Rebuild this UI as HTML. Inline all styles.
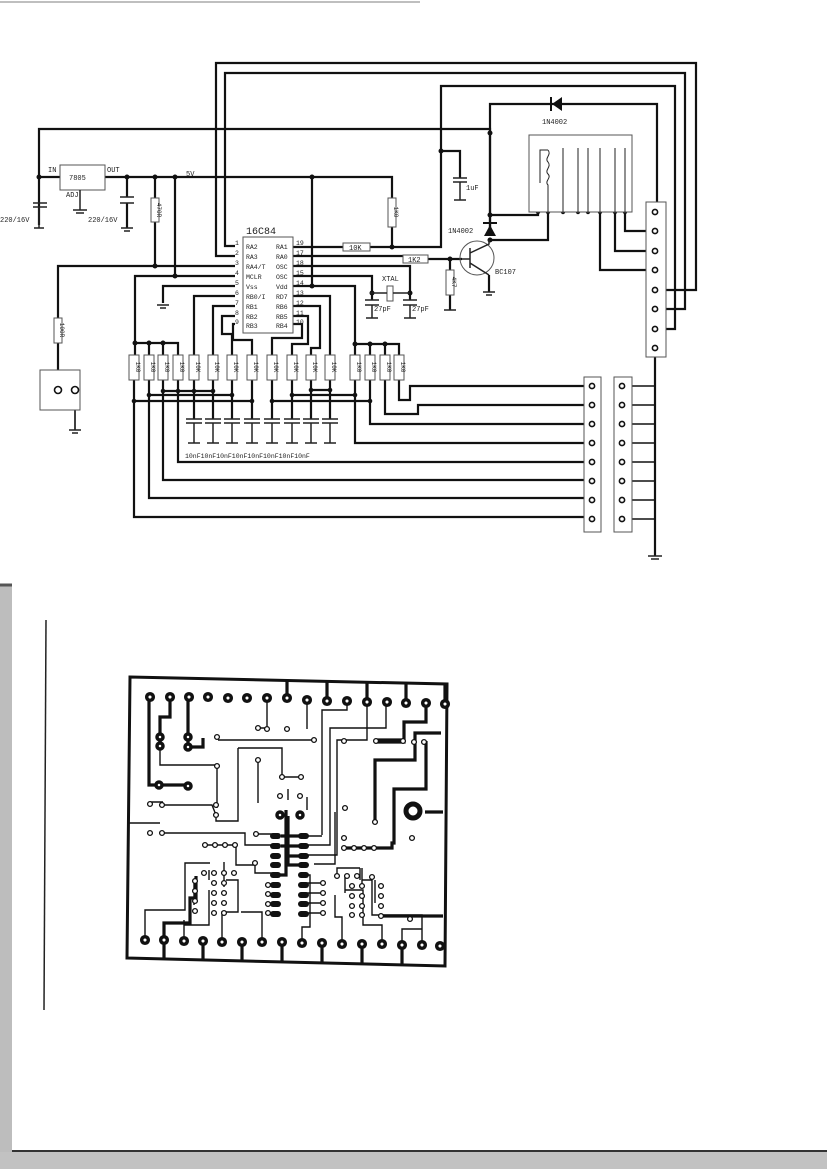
<!DOCTYPE html>
<html><head><meta charset="utf-8"><style>
html,body{margin:0;padding:0;background:#fff;}
svg{display:block;}
text{font-family:"Liberation Mono",monospace;fill:#222;}
</style></head><body>
<svg width="827" height="1169" viewBox="0 0 827 1169" xmlns="http://www.w3.org/2000/svg">
<rect width="827" height="1169" fill="#fff"/>
<line x1="0" y1="2" x2="420" y2="2" stroke="#aaa" stroke-width="1.5"/>
<rect x="0" y="585" width="12" height="584" fill="#bdbdbd"/>
<line x1="0" y1="585" x2="12" y2="585" stroke="#555" stroke-width="3"/>
<rect x="0" y="1152" width="827" height="17" fill="#c2c2c2"/>
<line x1="12" y1="1151" x2="827" y2="1151" stroke="#333" stroke-width="2"/>
<line x1="46" y1="620" x2="44" y2="1010" stroke="#222" stroke-width="1.5"/>

<g fill="none" stroke="#111" stroke-width="2.2">
<path d="M235,246 H225 V73 H685 V309 H659"/>
<path d="M235,256 H216 V63 H696 V290 H659"/>
<path d="M293,247 H441 V86 H675 V329 H659"/>
<path d="M39,225 V129 H490 V230"/>
<path d="M490,230 V104 H657 V212"/>
<path d="M441,151 H460 V178"/>
<path d="M490,215 H538 V212"/>
<path d="M490,240 H548 V212"/>
<path d="M600,212 V270 H655"/>
<path d="M615,212 V251 H655"/>
<path d="M625,212 V231 H655"/>
<path d="M655,348 V556"/>
<path d="M39,177 H60 M105,177 H392 V200 M392,227 V247"/>
<path d="M127,177 V197 M127,203 V228"/>
<path d="M155,177 V198 M155,222 V266"/>
<path d="M235,266 H58 V318 M58,343 V390"/>
<path d="M175,177 V276"/>
<path d="M235,276 H135 V355 M135,343 H178 V355 M149,343 V355 M163,343 V355"/>
<path d="M235,286 H163 V303"/>
<path d="M235,296 H194 V355"/>
<path d="M235,306 H213 V355"/>
<path d="M235,316 H222 V334 H232 V355"/>
<path d="M235,324 H233 V340 H252 V355"/>
<path d="M293,324 H302 V338 H272 V355"/>
<path d="M293,316 H308 V344 H292 V355"/>
<path d="M293,306 H320 V348 H311 V355"/>
<path d="M293,296 H330 V355"/>
<path d="M312,177 V286 M293,286 H355 V344 H399 V355 M370,344 V355 M385,344 V355 M355,344 V355"/>
<path d="M293,276 H372 V300"/>
<path d="M293,266 H410 V300"/>
<path d="M293,256 H403"/>
<path d="M428,259 H462 M450,259 V270 M450,295 V310"/>
<path d="M489,275 V292"/>
<path d="M134,380 V517 H585 M149,380 V498 H585 M163,380 V480 H585 M178,380 V462 H585"/>
<path d="M355,380 V443 H585 M370,380 V424 H585 M385,380 V414 H418 V405 H585 M399,380 V400 H410 V386 H585"/>
<path d="M194,380 V419 M213,380 V419 M232,380 V419 M252,380 V419 M272,380 V419 M292,380 V419 M311,380 V419 M330,380 V419"/>
<path d="M134,401 H252 M149,395 H232 M163,391 H213 M272,401 H370 M292,395 H355 M311,390 H330"/>
</g>
<g fill="none" stroke="#111" stroke-width="1.6">
<path d="M592,386 H582 M622,386 H654 M622,405 H654 M622,424 H654 M622,443 H654 M622,462 H654 M622,481 H654 M622,500 H654 M622,519 H654"/>
<path d="M75,390 V430"/>
</g>
<g fill="#111">
<circle cx="39" cy="177" r="2.5"/><circle cx="127" cy="177" r="2.5"/><circle cx="155" cy="177" r="2.5"/><circle cx="175" cy="177" r="2.5"/>
<circle cx="312" cy="177" r="2.5"/><circle cx="392" cy="247" r="2.5"/><circle cx="155" cy="266" r="2.5"/><circle cx="175" cy="276" r="2.5"/>
<circle cx="312" cy="286" r="2.5"/><circle cx="441" cy="151" r="2.5"/><circle cx="490" cy="133" r="2.5"/><circle cx="490" cy="215" r="2.5"/>
<circle cx="490" cy="240" r="2.5"/><circle cx="450" cy="259" r="2.5"/><circle cx="372" cy="293" r="2.5"/><circle cx="410" cy="293" r="2.5"/>
<circle cx="135" cy="343" r="2.5"/><circle cx="149" cy="343" r="2.5"/><circle cx="163" cy="343" r="2.5"/>
<circle cx="355" cy="344" r="2.5"/><circle cx="370" cy="344" r="2.5"/><circle cx="385" cy="344" r="2.5"/>
<circle cx="538" cy="212" r="2.2"/><circle cx="548" cy="212" r="2.2"/><circle cx="563" cy="212" r="2.2"/><circle cx="578" cy="212" r="2.2"/><circle cx="588" cy="212" r="2.2"/><circle cx="600" cy="212" r="2.2"/><circle cx="615" cy="212" r="2.2"/><circle cx="625" cy="212" r="2.2"/>
<circle cx="134" cy="401" r="2.3"/><circle cx="252" cy="401" r="2.3"/><circle cx="149" cy="395" r="2.3"/><circle cx="232" cy="395" r="2.3"/><circle cx="163" cy="391" r="2.3"/><circle cx="213" cy="391" r="2.3"/><circle cx="178" cy="391" r="2.3"/><circle cx="194" cy="391" r="2.3"/>
<circle cx="272" cy="401" r="2.3"/><circle cx="370" cy="401" r="2.3"/><circle cx="292" cy="395" r="2.3"/><circle cx="355" cy="395" r="2.3"/><circle cx="311" cy="390" r="2.3"/><circle cx="330" cy="390" r="2.3"/>
</g>
<g fill="#fff" stroke="#555" stroke-width="1">
<rect x="60" y="165" width="45" height="25"/>
<rect x="243" y="237" width="50" height="96"/>
<rect x="343" y="243" width="27" height="8"/>
<rect x="403" y="255" width="25" height="8"/>
<rect x="388" y="198" width="8" height="29"/>
<rect x="151" y="198" width="8" height="24"/>
<rect x="54" y="318" width="8" height="25"/>
<rect x="446" y="270" width="8" height="25"/>
<rect x="40" y="370" width="40" height="40"/>
<rect x="529" y="135" width="103" height="77"/>
<rect x="646" y="202" width="20" height="155"/>
<rect x="584" y="377" width="17" height="155"/>
<rect x="614" y="377" width="18" height="155"/>
<rect x="387" y="286" width="6" height="15"/>
</g>
<g fill="#fff" stroke="#555" stroke-width="1">
<rect x="129" y="355" width="10" height="25"/><rect x="144" y="355" width="10" height="25"/><rect x="158" y="355" width="10" height="25"/><rect x="173" y="355" width="10" height="25"/>
<rect x="189" y="355" width="10" height="25"/><rect x="208" y="355" width="10" height="25"/><rect x="227" y="355" width="10" height="25"/><rect x="247" y="355" width="10" height="25"/>
<rect x="267" y="355" width="10" height="25"/><rect x="287" y="355" width="10" height="25"/><rect x="306" y="355" width="10" height="25"/><rect x="325" y="355" width="10" height="25"/>
<rect x="350" y="355" width="10" height="25"/><rect x="365" y="355" width="10" height="25"/><rect x="380" y="355" width="10" height="25"/><rect x="394" y="355" width="10" height="25"/>
</g>
<g font-size="6" text-anchor="middle">
<text transform="translate(136,367) rotate(90)">1K0</text><text transform="translate(151,367) rotate(90)">1K0</text><text transform="translate(165,367) rotate(90)">1K0</text><text transform="translate(180,367) rotate(90)">1K0</text>
<text transform="translate(196,367) rotate(90)">10K</text><text transform="translate(215,367) rotate(90)">10K</text><text transform="translate(234,367) rotate(90)">10K</text><text transform="translate(254,367) rotate(90)">10K</text>
<text transform="translate(274,367) rotate(90)">10K</text><text transform="translate(294,367) rotate(90)">10K</text><text transform="translate(313,367) rotate(90)">10K</text><text transform="translate(332,367) rotate(90)">10K</text>
<text transform="translate(357,367) rotate(90)">1K0</text><text transform="translate(372,367) rotate(90)">1K0</text><text transform="translate(387,367) rotate(90)">1K0</text><text transform="translate(401,367) rotate(90)">1K0</text>
<text transform="translate(394,212) rotate(90)">1K0</text><text transform="translate(157,210) rotate(90)">470R</text><text transform="translate(60,330) rotate(90)">100R</text><text transform="translate(452,282) rotate(90)">4K7</text>
</g>
<g font-size="7">
<text x="69" y="180">7805</text><text x="48" y="172">IN</text><text x="107" y="172">OUT</text><text x="66" y="197">ADJ</text>
<text x="186" y="176">5V</text><text x="0" y="222">220/16V</text><text x="88" y="222">220/16V</text>
<text x="349" y="250">10K</text><text x="408" y="262">1K2</text><text x="466" y="190">1uF</text>
<text x="382" y="281">XTAL</text><text x="374" y="311">27pF</text><text x="412" y="311">27pF</text>
<text x="542" y="124">1N4002</text><text x="448" y="233">1N4002</text><text x="495" y="274">BC107</text>
<text x="185" y="458" font-size="6.5">10nF10nF10nF10nF10nF10nF10nF10nF</text>
<text x="246" y="234" font-size="10">16C84</text>
</g>
<g font-size="6.5">
<text x="246" y="249">RA2</text><text x="246" y="259">RA3</text><text x="246" y="269">RA4/T</text><text x="246" y="279">MCLR</text><text x="246" y="289">Vss</text><text x="246" y="299">RB0/I</text><text x="246" y="309">RB1</text><text x="246" y="319">RB2</text><text x="246" y="328">RB3</text>
<text x="276" y="249">RA1</text><text x="276" y="259">RA0</text><text x="276" y="269">OSC</text><text x="276" y="279">OSC</text><text x="276" y="289">Vdd</text><text x="276" y="299">RD7</text><text x="276" y="309">RB6</text><text x="276" y="319">RB5</text><text x="276" y="328">RB4</text>
<text x="235" y="245">1</text><text x="235" y="255">2</text><text x="235" y="265">3</text><text x="235" y="275">4</text><text x="235" y="285">5</text><text x="235" y="295">6</text><text x="235" y="305">7</text><text x="235" y="315">8</text><text x="235" y="324">9</text>
<text x="296" y="245">19</text><text x="296" y="255">17</text><text x="296" y="265">18</text><text x="296" y="275">15</text><text x="296" y="285">14</text><text x="296" y="295">13</text><text x="296" y="305">12</text><text x="296" y="315">11</text><text x="296" y="324">10</text>
</g>
<g stroke="#222" stroke-width="1.5" fill="none">
<path d="M33,203 H47 M33,207 H47 M39,207 V228 M120,197 H134 M120,203 H134 M453,178 H467 M453,182 H467 M460,182 V200"/>
<path d="M365,300 H379 M365,305 H379 M372,305 V318 M403,300 H417 M403,305 H417 M410,305 V318"/>
<path d="M186,419 H202 M186,423 H202 M205,419 H221 M205,423 H221 M224,419 H240 M224,423 H240 M244,419 H260 M244,423 H260 M264,419 H280 M264,423 H280 M284,419 H300 M284,423 H300 M303,419 H319 M303,423 H319 M322,419 H338 M322,423 H338"/>
<path d="M194,423 V443 M213,423 V443 M232,423 V443 M252,423 V443 M272,423 V443 M292,423 V443 M311,423 V443 M330,423 V443"/>
<path d="M80,190 V210 M73,210 H87 M76,213 H84 M34,228 H44 M121,228 H133 M124,231 H130 M157,305 H169 M160,308 H166 M454,200 H466 M366,318 H378 M404,318 H416 M444,310 H456 M483,292 H495 M486,295 H492 M648,556 H662 M651,559 H659 M69,430 H81 M72,433 H78"/>
<path d="M188,443 H200 M207,443 H219 M226,443 H238 M246,443 H258 M266,443 H278 M286,443 H298 M305,443 H317 M324,443 H336"/>
<path d="M370,293 H387 M393,293 H410"/>
<circle cx="477" cy="258" r="17" stroke="#555" stroke-width="1"/>
<path d="M470,248 V268 M462,259 H470 M470,253 L489,244 V240 M470,263 L489,275"/>
<path d="M540,183 V150 H548 M548,150 C552,155 544,158 548,162 C552,167 544,170 548,174 C552,178 544,181 548,185 V212" stroke-width="1"/>
<path d="M563,212 V148 M578,212 V148 M588,212 V148 M600,212 V148 M615,212 V148 M625,212 V148" stroke-width="1"/>
</g>
<g fill="#111">
<polygon points="484,236 496,236 490,225"/><rect x="483" y="222" width="14" height="2"/>
<polygon points="552,104 562,97 562,111"/><rect x="550" y="97" width="2" height="14"/>
</g>
<g fill="#fff" stroke="#111" stroke-width="1.6">
<circle cx="58" cy="390" r="3.5"/><circle cx="75" cy="390" r="3.5"/>
<circle cx="655" cy="212" r="2.6"/><circle cx="655" cy="231" r="2.6"/><circle cx="655" cy="251" r="2.6"/><circle cx="655" cy="270" r="2.6"/><circle cx="655" cy="290" r="2.6"/><circle cx="655" cy="309" r="2.6"/><circle cx="655" cy="329" r="2.6"/><circle cx="655" cy="348" r="2.6"/>
<circle cx="592" cy="386" r="2.6"/><circle cx="592" cy="405" r="2.6"/><circle cx="592" cy="424" r="2.6"/><circle cx="592" cy="443" r="2.6"/><circle cx="592" cy="462" r="2.6"/><circle cx="592" cy="481" r="2.6"/><circle cx="592" cy="500" r="2.6"/><circle cx="592" cy="519" r="2.6"/>
<circle cx="622" cy="386" r="2.6"/><circle cx="622" cy="405" r="2.6"/><circle cx="622" cy="424" r="2.6"/><circle cx="622" cy="443" r="2.6"/><circle cx="622" cy="462" r="2.6"/><circle cx="622" cy="481" r="2.6"/><circle cx="622" cy="500" r="2.6"/><circle cx="622" cy="519" r="2.6"/>
</g>

<g fill="none" stroke="#111" stroke-linejoin="miter">
<path d="M130,677 L447,684 L445,966 L127,958 Z" stroke-width="3"/>
<g stroke-width="3.2">
<path d="M149,697 V785 H188"/><path d="M170,697 V717 H160 V740"/><path d="M188,697 V743"/>
<path d="M287,697 V680"/><path d="M327,699 V682"/><path d="M367,700 V682"/><path d="M406,701 V683"/><path d="M445,702 V685"/>
<path d="M426,702 V722 H404 V742 H377 M377,740 H403"/>
<path d="M441,733 H415 V760 H375 V822"/><path d="M426,741 V789 H394 V843 H392 V848 H344"/>
<path d="M425,812 H443"/><path d="M381,916 H443"/>
<path d="M164,942 V923 H190 V898 H196 V876"/><path d="M203,942 V960 M242,942 V960 M282,942 V961 M322,942 V963 M362,942 V963 M402,942 V964 M164,942 V959"/>
<path d="M304,836 H281 M304,846 H281 M302,856 H285 H285 M302,865 H288 V816 M275,875 H286 V810"/>
<path d="M188,747 H203 V738"/>
</g>
<g stroke-width="1.4">
<path d="M267,697 V728 H258"/><path d="M307,697 V729"/>
<path d="M347,700 V710 H322 V835 M322,836 H304"/><path d="M386,700 V728 H330 V845 H304"/>
<path d="M367,700 V740 H337 V855 H304"/><path d="M314,864 H335 V812"/>
<path d="M160,745 V765 H217 V808"/><path d="M218,740 H314"/>
<path d="M238,748 H282 V777 H301 M258,760 V803"/>
<path d="M257,834 H274 M238,748 V821 H216 V818 M128,823 H160 M162,833 H245 V845 H274"/>
<path d="M150,802 H163 M163,805 H212 L216,815"/>
<path d="M205,845 H236 M236,845 V865 H255 V873 H275"/>
<path d="M288,800 V789 M307,797 V810"/>
<path d="M268,885 H274 M268,894 H274 M268,904 H274 M268,913 H274"/>
<path d="M304,883 H323 M304,893 H323 M304,903 H323 M304,913 H323"/>
<path d="M145,940 V910 H185 V863 H210 M224,862 V887 M209,870 V880 M194,880 V905"/>
<path d="M184,942 V920 M184,925 H209 V890 M222,942 V912 H238 V880 H226 M262,942 V912 H241"/>
<path d="M302,942 V927 H310 V875 H304 M342,942 V917 H335 V895 M337,875 V868 H360 M360,868 V880 M382,942 V925 H363 V890 H345 M345,893 V875"/>
<path d="M402,942 V929 H422 V915 H372 V880 H362 M422,942 V919"/>
<path d="M362,868 V885 M375,903 V880"/>
</g>
</g>
<g fill="#fff" stroke="#111" stroke-width="3.5">
<circle cx="150" cy="697" r="3.3"/><circle cx="170" cy="697" r="3.3"/><circle cx="189" cy="697" r="3.3"/><circle cx="208" cy="697" r="3.3"/><circle cx="228" cy="698" r="3.3"/><circle cx="247" cy="698" r="3.3"/><circle cx="267" cy="698" r="3.3"/><circle cx="287" cy="698" r="3.3"/>
<circle cx="307" cy="700" r="3.3"/><circle cx="327" cy="701" r="3.3"/><circle cx="347" cy="701" r="3.3"/><circle cx="367" cy="702" r="3.3"/><circle cx="387" cy="702" r="3.3"/><circle cx="406" cy="703" r="3.3"/><circle cx="426" cy="703" r="3.3"/><circle cx="445" cy="704" r="3.3"/>
<circle cx="145" cy="940" r="3.3"/><circle cx="164" cy="940" r="3.3"/><circle cx="184" cy="941" r="3.3"/><circle cx="203" cy="941" r="3.3"/><circle cx="222" cy="942" r="3.3"/><circle cx="242" cy="942" r="3.3"/><circle cx="262" cy="942" r="3.3"/><circle cx="282" cy="942" r="3.3"/>
<circle cx="302" cy="943" r="3.3"/><circle cx="322" cy="943" r="3.3"/><circle cx="342" cy="944" r="3.3"/><circle cx="362" cy="944" r="3.3"/><circle cx="382" cy="944" r="3.3"/><circle cx="402" cy="945" r="3.3"/><circle cx="422" cy="945" r="3.3"/><circle cx="440" cy="946" r="3.3"/>
<circle cx="160" cy="737" r="3"/><circle cx="160" cy="746" r="3"/><circle cx="188" cy="737" r="3"/><circle cx="188" cy="747" r="3"/><circle cx="159" cy="785" r="3"/><circle cx="188" cy="786" r="3"/>
<circle cx="280" cy="815" r="3"/><circle cx="300" cy="815" r="3"/>
</g>
<circle cx="413" cy="811" r="7" fill="#fff" stroke="#111" stroke-width="5"/>
<g fill="#fff" stroke="#111" stroke-width="1.3">
<circle cx="258" cy="728" r="2.4"/><circle cx="267" cy="729" r="2.4"/><circle cx="287" cy="729" r="2.4"/><circle cx="217" cy="737" r="2.4"/><circle cx="314" cy="740" r="2.4"/><circle cx="344" cy="741" r="2.4"/><circle cx="376" cy="741" r="2.4"/><circle cx="403" cy="741" r="2.4"/><circle cx="414" cy="742" r="2.4"/><circle cx="424" cy="742" r="2.4"/>
<circle cx="258" cy="760" r="2.4"/><circle cx="282" cy="777" r="2.4"/><circle cx="301" cy="777" r="2.4"/><circle cx="217" cy="766" r="2.4"/><circle cx="280" cy="796" r="2.4"/><circle cx="300" cy="796" r="2.4"/><circle cx="375" cy="822" r="2.4"/><circle cx="345" cy="808" r="2.4"/>
<circle cx="150" cy="804" r="2.4"/><circle cx="162" cy="805" r="2.4"/><circle cx="216" cy="805" r="2.4"/><circle cx="216" cy="815" r="2.4"/><circle cx="150" cy="833" r="2.4"/><circle cx="162" cy="833" r="2.4"/><circle cx="256" cy="834" r="2.4"/><circle cx="412" cy="838" r="2.4"/>
<circle cx="205" cy="845" r="2.4"/><circle cx="215" cy="845" r="2.4"/><circle cx="225" cy="845" r="2.4"/><circle cx="235" cy="845" r="2.4"/><circle cx="344" cy="838" r="2.4"/><circle cx="344" cy="848" r="2.4"/><circle cx="354" cy="848" r="2.4"/><circle cx="364" cy="848" r="2.4"/><circle cx="374" cy="848" r="2.4"/><circle cx="255" cy="863" r="2.4"/>
<circle cx="204" cy="873" r="2.4"/><circle cx="214" cy="873" r="2.4"/><circle cx="224" cy="873" r="2.4"/><circle cx="234" cy="873" r="2.4"/><circle cx="195" cy="881" r="2.4"/><circle cx="195" cy="891" r="2.4"/><circle cx="195" cy="901" r="2.4"/><circle cx="195" cy="911" r="2.4"/>
<circle cx="214" cy="883" r="2.4"/><circle cx="224" cy="883" r="2.4"/><circle cx="214" cy="893" r="2.4"/><circle cx="224" cy="893" r="2.4"/><circle cx="214" cy="903" r="2.4"/><circle cx="224" cy="903" r="2.4"/><circle cx="214" cy="913" r="2.4"/><circle cx="224" cy="913" r="2.4"/>
<circle cx="268" cy="885" r="2.4"/><circle cx="268" cy="894" r="2.4"/><circle cx="268" cy="904" r="2.4"/><circle cx="268" cy="913" r="2.4"/><circle cx="323" cy="883" r="2.4"/><circle cx="323" cy="893" r="2.4"/><circle cx="323" cy="903" r="2.4"/><circle cx="323" cy="913" r="2.4"/>
<circle cx="337" cy="876" r="2.4"/><circle cx="347" cy="876" r="2.4"/><circle cx="357" cy="876" r="2.4"/><circle cx="372" cy="877" r="2.4"/><circle cx="352" cy="886" r="2.4"/><circle cx="362" cy="886" r="2.4"/><circle cx="352" cy="896" r="2.4"/><circle cx="362" cy="896" r="2.4"/>
<circle cx="352" cy="906" r="2.4"/><circle cx="362" cy="906" r="2.4"/><circle cx="352" cy="915" r="2.4"/><circle cx="362" cy="915" r="2.4"/><circle cx="381" cy="886" r="2.4"/><circle cx="381" cy="896" r="2.4"/><circle cx="381" cy="906" r="2.4"/><circle cx="381" cy="916" r="2.4"/><circle cx="410" cy="919" r="2.4"/>
</g>
<g fill="#111">
<rect x="270" y="833" width="11" height="6" rx="3"/><rect x="270" y="843" width="11" height="6" rx="3"/><rect x="270" y="853" width="11" height="6" rx="3"/><rect x="270" y="862" width="11" height="6" rx="3"/><rect x="270" y="872" width="11" height="6" rx="3"/><rect x="270" y="882" width="11" height="6" rx="3"/><rect x="270" y="892" width="11" height="6" rx="3"/><rect x="270" y="901" width="11" height="6" rx="3"/><rect x="270" y="911" width="11" height="6" rx="3"/>
<rect x="298" y="833" width="11" height="6" rx="3"/><rect x="298" y="843" width="11" height="6" rx="3"/><rect x="298" y="853" width="11" height="6" rx="3"/><rect x="298" y="862" width="11" height="6" rx="3"/><rect x="298" y="872" width="11" height="6" rx="3"/><rect x="298" y="882" width="11" height="6" rx="3"/><rect x="298" y="892" width="11" height="6" rx="3"/><rect x="298" y="901" width="11" height="6" rx="3"/><rect x="298" y="911" width="11" height="6" rx="3"/>
</g>
</svg>
</body></html>
